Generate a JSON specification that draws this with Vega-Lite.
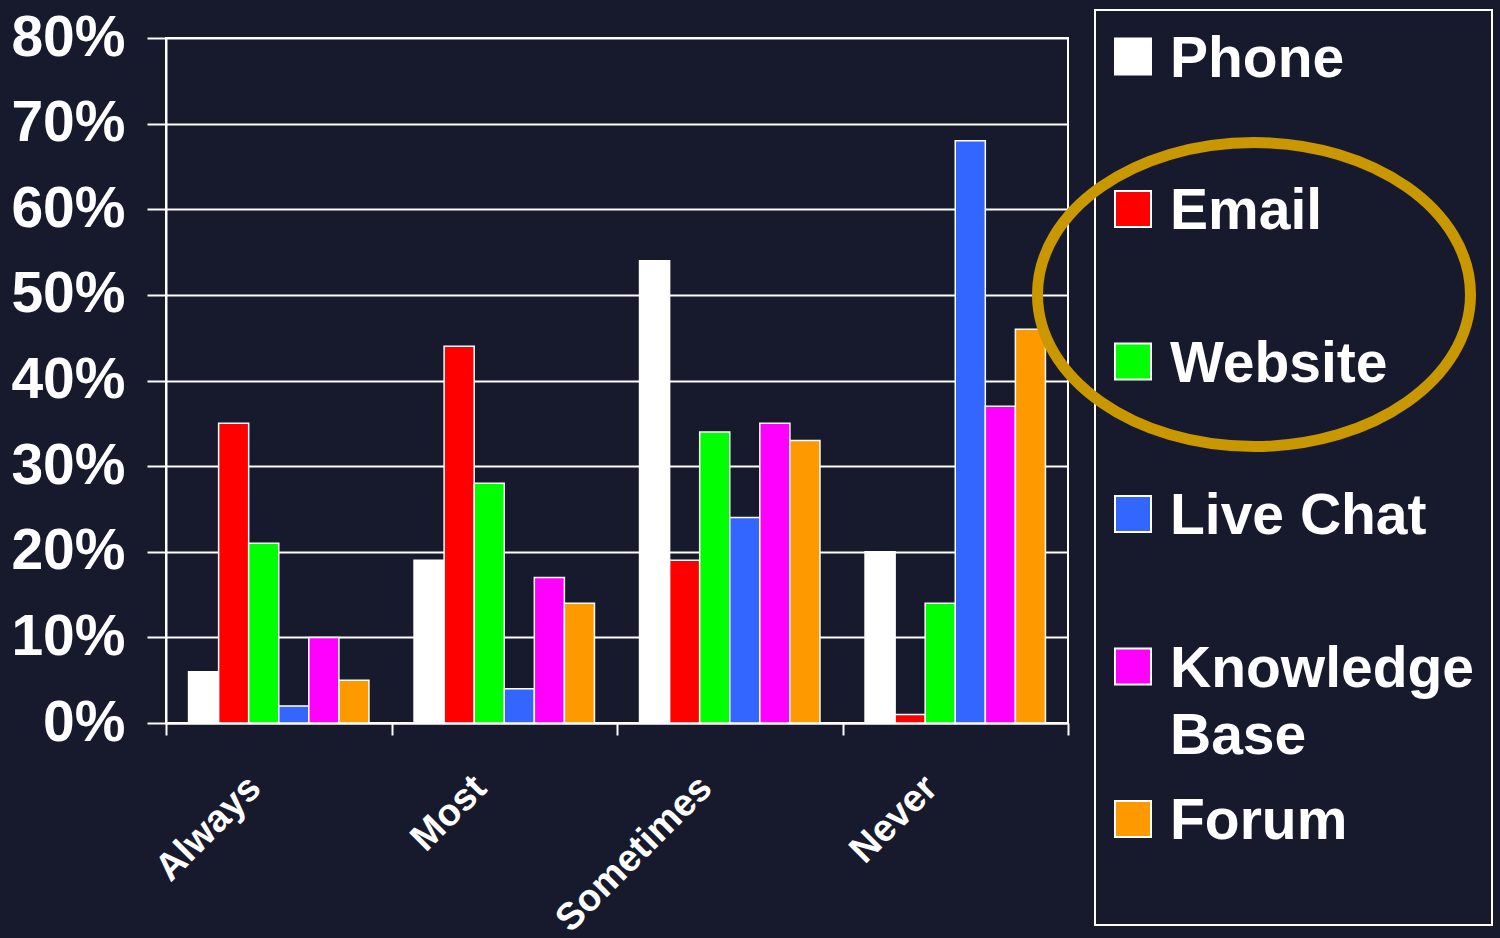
{
  "$schema": "https://vega.github.io/schema/vega-lite/v6.json",
  "width": 902,
  "height": 685,
  "autosize": {"type": "none"},
  "padding": {"left": 166, "top": 38, "right": 432, "bottom": 215},
  "background": "#171a2d",
  "config": {
    "view": {"stroke": "#ffffff", "strokeWidth": 2},
    "font": "Liberation Sans"
  },
  "resolve": {"scale": {"x": "independent", "y": "independent"}},
  "layer": [
    {
      "data": {"values": [
        {"frequency": "Always", "channel": "Phone", "percent": 6},
        {"frequency": "Always", "channel": "Email", "percent": 35},
        {"frequency": "Always", "channel": "Website", "percent": 21},
        {"frequency": "Always", "channel": "Live Chat", "percent": 2},
        {"frequency": "Always", "channel": "Knowledge Base", "percent": 10},
        {"frequency": "Always", "channel": "Forum", "percent": 5},
        {"frequency": "Most", "channel": "Phone", "percent": 19},
        {"frequency": "Most", "channel": "Email", "percent": 44},
        {"frequency": "Most", "channel": "Website", "percent": 28},
        {"frequency": "Most", "channel": "Live Chat", "percent": 4},
        {"frequency": "Most", "channel": "Knowledge Base", "percent": 17},
        {"frequency": "Most", "channel": "Forum", "percent": 14},
        {"frequency": "Sometimes", "channel": "Phone", "percent": 54},
        {"frequency": "Sometimes", "channel": "Email", "percent": 19},
        {"frequency": "Sometimes", "channel": "Website", "percent": 34},
        {"frequency": "Sometimes", "channel": "Live Chat", "percent": 24},
        {"frequency": "Sometimes", "channel": "Knowledge Base", "percent": 35},
        {"frequency": "Sometimes", "channel": "Forum", "percent": 33},
        {"frequency": "Never", "channel": "Phone", "percent": 20},
        {"frequency": "Never", "channel": "Email", "percent": 1},
        {"frequency": "Never", "channel": "Website", "percent": 14},
        {"frequency": "Never", "channel": "Live Chat", "percent": 68},
        {"frequency": "Never", "channel": "Knowledge Base", "percent": 37},
        {"frequency": "Never", "channel": "Forum", "percent": 46}
      ]},
      "mark": {"type": "bar", "stroke": "#ffffff", "strokeWidth": 1.5},
      "encoding": {
        "x": {
          "field": "frequency", "type": "nominal",
          "sort": ["Always", "Most", "Sometimes", "Never"],
          "scale": {"paddingInner": 0, "paddingOuter": 0},
          "axis": {
            "title": null, "tickBand": "extent", "grid": false,
            "labelAngle": -45, "labelAlign": "right", "labelBaseline": "middle",
            "labelFontSize": 38, "labelFontWeight": "bold", "labelColor": "#ffffff",
            "labelFont": "Liberation Sans", "labelLimit": 500,
            "labelPadding": 47, "labelOffset": -24,
            "tickColor": "#ffffff", "tickWidth": 2, "tickSize": 12,
            "domainColor": "#ffffff", "domainWidth": 2
          }
        },
        "xOffset": {
          "field": "channel", "type": "nominal",
          "sort": ["Phone", "Email", "Website", "Live Chat", "Knowledge Base", "Forum"],
          "scale": {"paddingInner": 0, "paddingOuter": 0.75}
        },
        "y": {
          "field": "percent", "type": "quantitative",
          "scale": {"domain": [0, 80], "nice": false},
          "axis": {
            "title": null, "values": [0, 10, 20, 30, 40, 50, 60, 70, 80],
            "labelExpr": "datum.value + '%'",
            "labelFontSize": 57, "labelFontWeight": "bold", "labelColor": "#ffffff",
            "labelFont": "Liberation Sans",
            "labelPadding": 22, "tickSize": 19, "tickColor": "#ffffff", "tickWidth": 2,
            "domainColor": "#ffffff", "domainWidth": 2,
            "grid": true, "gridColor": "#ffffff", "gridWidth": 2, "gridOpacity": 1
          }
        },
        "color": {
          "field": "channel", "type": "nominal",
          "scale": {
            "domain": ["Phone", "Email", "Website", "Live Chat", "Knowledge Base", "Forum"],
            "range": ["#ffffff", "#ff0000", "#00ff00", "#3366ff", "#ff00ff", "#ff9900"]
          },
          "legend": null
        }
      }
    },
    {
      "layer": [
        {
          "data": {"values": [{}]},
          "mark": {"type": "rect", "fill": "transparent", "stroke": "#ffffff", "strokeWidth": 2},
          "encoding": {
            "x": {"datum": 4.1197, "type": "quantitative", "scale": {"domain": [0, 4], "nice": false, "zero": false}, "axis": null},
            "x2": {"datum": 5.8803},
            "y": {"datum": -0.3049, "type": "quantitative", "scale": {"domain": [-0.1213, 4.3705], "nice": false, "zero": false, "reverse": true}, "axis": null},
            "y2": {"datum": 5.6951}
          }
        },
        {
          "data": {"values": [
            {"channel": "Phone", "order": 0, "label": "Phone"},
            {"channel": "Email", "order": 1, "label": "Email"},
            {"channel": "Website", "order": 2, "label": "Website"},
            {"channel": "Live Chat", "order": 3, "label": "Live Chat"},
            {"channel": "Knowledge Base", "order": 4, "label": "Knowledge\nBase"},
            {"channel": "Forum", "order": 5, "label": "Forum"}
          ]},
          "layer": [
            {
              "mark": {"type": "point", "shape": "square", "filled": true, "size": 1296, "stroke": "#ffffff", "strokeWidth": 2, "opacity": 1},
              "encoding": {
                "x": {"datum": 4.2882, "type": "quantitative"},
                "y": {"field": "order", "type": "quantitative"},
                "color": {"field": "channel", "type": "nominal", "legend": null}
              }
            },
            {
              "mark": {"type": "text", "align": "left", "baseline": "alphabetic", "dy": 20.5, "fontSize": 57, "fontWeight": "bold", "font": "Liberation Sans", "fill": "#ffffff", "lineBreak": "\n", "lineHeight": 67},
              "encoding": {
                "x": {"datum": 4.4523, "type": "quantitative"},
                "y": {"field": "order", "type": "quantitative"},
                "text": {"field": "label", "type": "nominal"}
              }
            }
          ]
        },
        {
          "data": {"values": [{}]},
          "mark": {
            "type": "point",
            "shape": "M 1 0 C 1 0.3877 0.5523 0.702 0 0.702 C -0.5523 0.702 -1 0.3877 -1 0 C -1 -0.3877 -0.5523 -0.702 0 -0.702 C 0.5523 -0.702 1 -0.3877 1 0 Z",
            "size": 187489, "filled": false, "stroke": "#c99700", "strokeWidth": 11, "opacity": 1
          },
          "encoding": {
            "x": {"datum": 4.8248, "type": "quantitative"},
            "y": {"datum": 1.561, "type": "quantitative"}
          }
        }
      ]
    }
  ]
}
